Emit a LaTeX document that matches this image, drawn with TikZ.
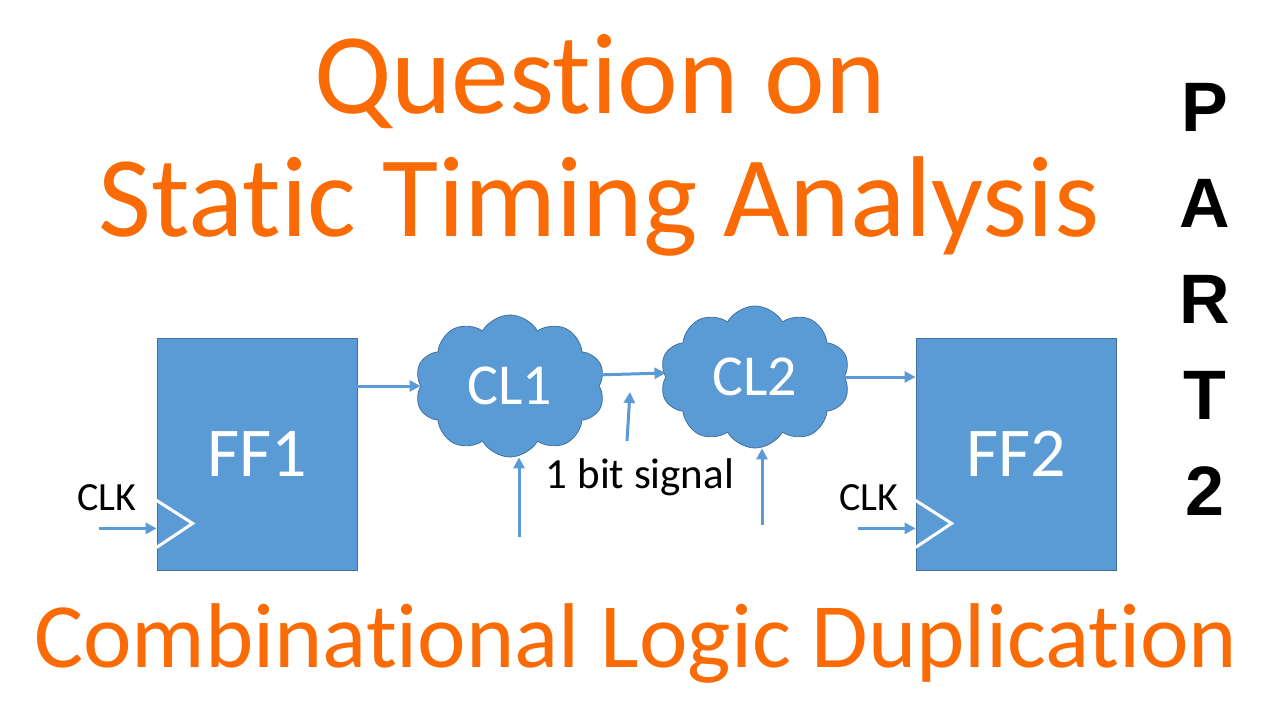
\documentclass[tikz,border=0pt]{standalone}
\usepackage{fontspec}
\setmainfont{Carlito}[Ligatures=NoCommon]
\newfontfamily\partfont{Liberation Sans}
\usetikzlibrary{shapes.symbols,arrows.meta,calc}
\definecolor{titleorange}{HTML}{FA6B05}
\definecolor{boxblue}{HTML}{5B9BD5}
\definecolor{boxedge}{HTML}{41719C}

\begin{document}
\begin{tikzpicture}[x=1pt, y=-1pt,
    block/.style={rectangle, fill=boxblue, draw=boxedge, line width=0.8pt,
        minimum width=200pt, minimum height=232pt, text=white,
        font=\fontsize{70}{70}\selectfont},
    logic/.style={cloud, cloud puffs=10, cloud puff arc=120, aspect=1.35,
        fill=boxblue, draw=boxedge, line width=0.8pt, minimum width=190pt,
        minimum height=142pt, inner sep=0pt, text=white,
        font=\fontsize{58}{58}\selectfont},
    wire/.style={draw=boxblue, line width=3pt, -{Triangle[length=11pt,width=11pt]}},
    title/.style={text=titleorange, anchor=base, inner sep=0pt},
    label/.style={anchor=base, inner sep=0pt, font=\fontsize{40}{40}\selectfont},
    partletter/.style={inner sep=0pt, font=\partfont\bfseries\fontsize{70}{70}\selectfont},
    ]
        \useasboundingbox[fill=white] (0,0) rectangle (1280,720);
        % titles
        \node[title, font=\fontsize{115}{115}\selectfont] (qline) at (600,113) {Question on};
        \node[title, font=\fontsize{115}{115}\selectfont] (staline) at (599,236) {Static Timing Analysis};
        \node[title, font=\fontsize{92}{92}\selectfont] (dupline) at (636,667) {Combinational Logic Duplication};
        \foreach \ch [count=\i] in {P,A,R,T,2}
            \node[partletter] (part\i) at (1205, 107+96*\i-96) {\ch};
        % flip-flops and logic clouds
        \node[block] (ff1) at (257,454) {FF1};
        \node[block] (ff2) at (1016,454) {FF2};
        \node[logic] (cl1) at (510,386) {CL1};
        \node[logic] (cl2) at (755,377) {CL2};
        % clock inputs
        \foreach \ff/\xl in {ff1/107, ff2/869} {
            \draw[white, line width=3pt] ($(\ff.south west)+(0,-70)$) -- ($(\ff.south west)+(36,-47)$) -- ($(\ff.south west)+(0,-23)$);
            \coordinate (\ff clk) at ($(\ff.south west)+(-58,-42)$);
            \draw[wire] (\ff clk) -- (\ff clk -| \ff.west);
            \node[label] (\ff clklabel) at (\xl,510) {CLK};
        }
        % data path
        \draw[wire] (ff1.east |- cl1.west) -- (cl1.west);
        \draw[wire] ($(cl1.east)+(-4,-11)$) -- ($(cl2.west)+(0,-4)$);
        \draw[wire] (cl2.east) -- (cl2.east -| ff2.west);
        % side inputs
        \coordinate (in1) at (519,537);
        \coordinate (in2) at (762,525);
        \draw[wire] (in1) -- (in1 |- cl1.south);
        \draw[wire] (in2) -- (in2 |- cl2.south);
        \coordinate (sig) at (627,441);
        \coordinate (sigtip) at (630,392);
        \draw[wire] (sig) -- (sigtip);
        \node[label, font=\fontsize{43}{43}\selectfont] (siglabel) at (640,488) {1 bit signal};
    \end{tikzpicture}
\end{document}
